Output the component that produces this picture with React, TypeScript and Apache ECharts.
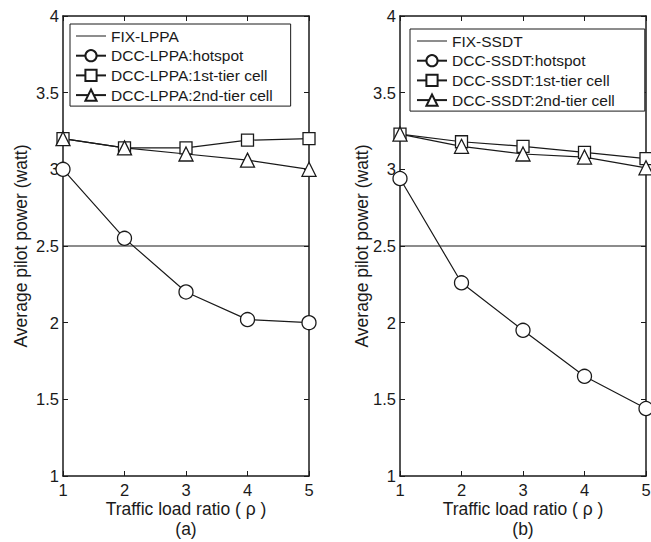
import React, { useEffect, useRef } from "react";
import * as echarts from "echarts";

const xValues = [1, 2, 3, 4, 5];
const fixLppa = [2.5, 2.5];
const lppaHotspot = [3.0, 2.55, 2.2, 2.02, 2.0];
const lppaTier1 = [3.2, 3.14, 3.14, 3.19, 3.2];
const lppaTier2 = [3.2, 3.14, 3.1, 3.06, 3.0];
const fixSsdt = [2.5, 2.5];
const ssdtHotspot = [2.94, 2.26, 1.95, 1.65, 1.44];
const ssdtTier1 = [3.23, 3.18, 3.15, 3.11, 3.07];
const ssdtTier2 = [3.23, 3.15, 3.1, 3.08, 3.01];
const fixX = [1, 5];

const INK = "#1a1a1a";
const FONT = "Liberation Sans, Arial, sans-serif";
const LINE_ICON = "path://M0,0L60,0L60,2L0,2Z";

function pairs(xs: number[], ys: number[]) {
  return xs.map((x, i) => [x, ys[i]]);
}

export default function App() {
  const ref = useRef<HTMLDivElement>(null);
  useEffect(() => {
    if (!ref.current) return;
    const chart = echarts.init(ref.current, undefined, { renderer: "svg" });

    const grids = [
      { left: 63, right: 342, top: 16, bottom: 66, containLabel: false, outerBoundsMode: "none" },
      { left: 400, right: 5, top: 16, bottom: 66, containLabel: false, outerBoundsMode: "none" },
    ];

    const xAxes: any[] = [];
    const yAxes: any[] = [];
    [0, 1].forEach((g) => {
      xAxes.push({
        gridIndex: g,
        type: "value",
        min: 1,
        max: 5,
        interval: 1,
        position: "bottom",
        axisLine: { lineStyle: { color: INK, width: 1.5 } },
        axisTick: { inside: true, length: 5, lineStyle: { color: INK } },
        axisLabel: { color: INK, fontSize: 16.5, fontFamily: FONT, margin: 6, lineHeight: 16 },
        splitLine: { show: false },
        name: g === 0 ? "Traffic load ratio ( ρ )\n(a)" : "Traffic load ratio ( ρ )\n(b)",
        nameLocation: "middle",
        nameGap: 23,
        nameMoveOverlap: false,
        nameTextStyle: { color: INK, fontSize: 17.5, fontFamily: FONT, lineHeight: 20, verticalAlign: "top" },
      });
      xAxes.push({
        gridIndex: g,
        type: "value",
        min: 1,
        max: 5,
        interval: 1,
        position: "top",
        axisLine: { lineStyle: { color: INK, width: 1.5 } },
        axisTick: { inside: true, length: 5, lineStyle: { color: INK } },
        axisLabel: { show: false },
        splitLine: { show: false },
      });
      yAxes.push({
        gridIndex: g,
        type: "value",
        min: 1,
        max: 4,
        interval: 0.5,
        position: "left",
        axisLine: { show: true, lineStyle: { color: INK, width: 1.5 } },
        axisTick: { show: true, inside: true, length: 5, lineStyle: { color: INK } },
        axisLabel: { color: INK, fontSize: 16.5, fontFamily: FONT, margin: 4 },
        splitLine: { show: false },
        name: "Average pilot power (watt)",
        nameLocation: "middle",
        nameGap: g === 0 ? 33 : 29,
        nameMoveOverlap: false,
        nameTextStyle: { color: INK, fontSize: 17.5, fontFamily: FONT },
      });
      yAxes.push({
        gridIndex: g,
        type: "value",
        min: 1,
        max: 4,
        interval: 0.5,
        position: "right",
        axisLine: { show: true, lineStyle: { color: INK, width: 1.5 } },
        axisTick: { show: true, inside: true, length: 5, lineStyle: { color: INK } },
        axisLabel: { show: false },
        splitLine: { show: false },
      });
    });

    const mk = (name: string, g: number, data: number[][], symbol: string, size: number) => ({
      name,
      type: "line",
      xAxisIndex: g * 2,
      yAxisIndex: g * 2,
      data,
      symbol,
      symbolSize: size,
      showSymbol: symbol !== "none",
      lineStyle: { color: INK, width: 1.2 },
      itemStyle: symbol === "none"
        ? { color: INK }
        : { color: "#fff", borderColor: INK, borderWidth: 1.3 },
      emphasis: { disabled: true },
      z: 3,
    });

    const legendCommon = {
      orient: "vertical",
      itemWidth: 30,
      itemHeight: 14,
      itemGap: 3.7,
      borderColor: INK,
      borderWidth: 1,
      backgroundColor: "#fff",
      align: "left",
      textStyle: { color: INK, fontSize: 15.5, fontFamily: FONT },
      selectedMode: false,
    };

    const lppaNames = ["FIX-LPPA", "DCC-LPPA:hotspot", "DCC-LPPA:1st-tier cell", "DCC-LPPA:2nd-tier cell"];
    const ssdtNames = ["FIX-SSDT", "DCC-SSDT:hotspot", "DCC-SSDT:1st-tier cell", "DCC-SSDT:2nd-tier cell"];

    const legendData = (names: string[]) => [
      { name: names[0], icon: LINE_ICON, itemStyle: { color: INK } },
      ...names.slice(1),
    ];

    chart.setOption({
      animation: false,
      backgroundColor: "#fff",
      grid: grids,
      xAxis: xAxes,
      yAxis: yAxes,
      legend: [
        { ...legendCommon, left: 70, top: 24, padding: [4, 18, 3, 5], data: legendData(lppaNames) },
        { ...legendCommon, left: 410, top: 29, padding: [4, 30, 3, 6], data: legendData(ssdtNames) },
      ],
      series: [
        mk(lppaNames[0], 0, pairs(fixX, fixLppa), "none", 0),
        mk(lppaNames[1], 0, pairs(xValues, lppaHotspot), "circle", 14),
        mk(lppaNames[2], 0, pairs(xValues, lppaTier1), "rect", 12),
        mk(lppaNames[3], 0, pairs(xValues, lppaTier2), "triangle", 14),
        mk(ssdtNames[0], 1, pairs(fixX, fixSsdt), "none", 0),
        mk(ssdtNames[1], 1, pairs(xValues, ssdtHotspot), "circle", 14),
        mk(ssdtNames[2], 1, pairs(xValues, ssdtTier1), "rect", 12),
        mk(ssdtNames[3], 1, pairs(xValues, ssdtTier2), "triangle", 14),
      ],
    });
    return () => chart.dispose();
  }, []);
  return (
    <div
      ref={ref}
      style={{ position: "absolute", left: 0, top: 0, width: 651, height: 542 }}
    />
  );
}
